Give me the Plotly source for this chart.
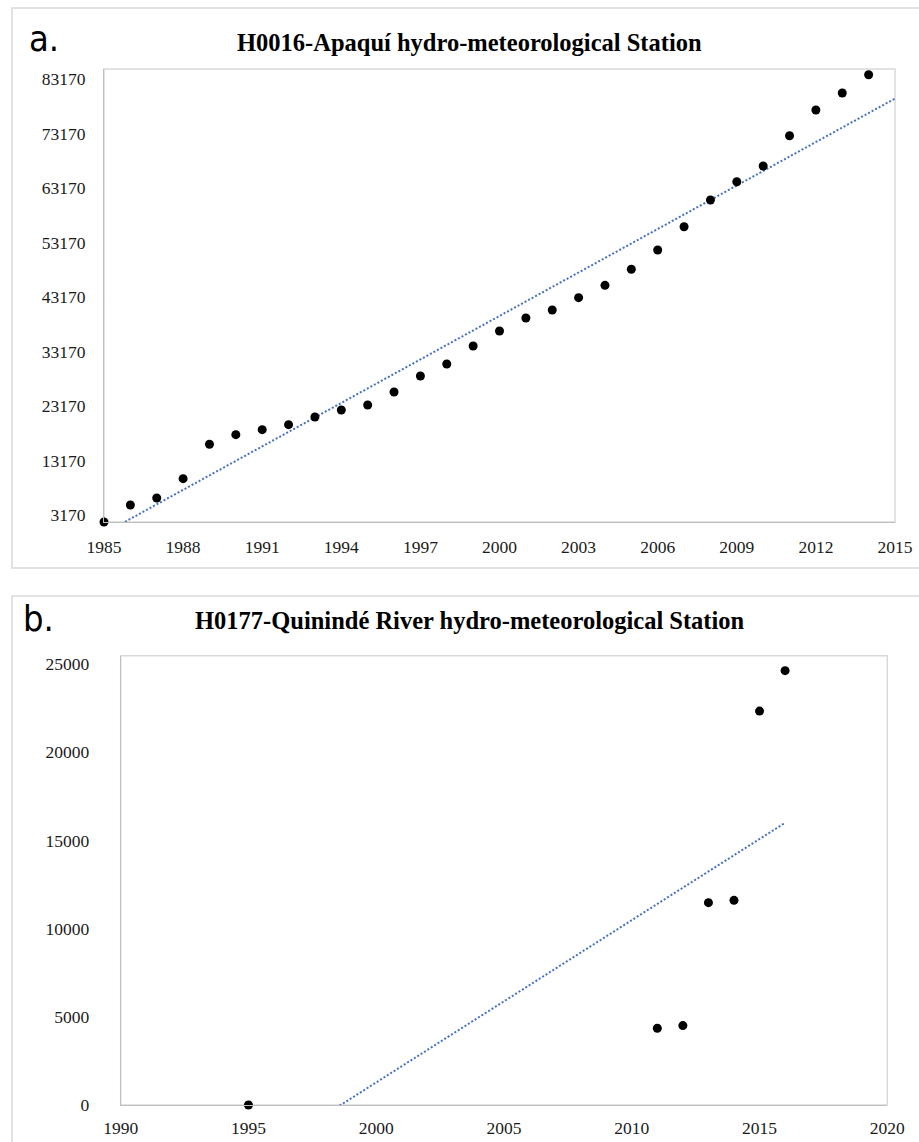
import numpy as np
import plotly.graph_objects as go

# Panel a: H0016-Apaquí cumulative series
years_a = list(range(1985, 2015))
values_a = [3170, 6290, 7574, 11120, 17427, 19194, 20113, 21030, 22436, 23720,
            24638, 27024, 29960, 32160, 35464, 38216, 40600, 42070, 44330, 46600,
            49540, 53080, 57353, 62253, 65610, 68491, 74050, 78766, 81886, 85243]
yticks_a = [3170, 13170, 23170, 33170, 43170, 53170, 63170, 73170, 83170]
xticks_a = [1985, 1988, 1991, 1994, 1997, 2000, 2003, 2006, 2009, 2012, 2015]

# Panel b: H0177-Quinindé River series
years_b = [1995, 2011, 2012, 2013, 2014, 2015, 2016]
values_b = [0, 4350, 4500, 11470, 11600, 22330, 24620]
yticks_b = [0, 5000, 10000, 15000, 20000, 25000]
xticks_b = [1990, 1995, 2000, 2005, 2010, 2015, 2020]

W, H = 919, 1142
SERIF = "Liberation Serif, Times New Roman, serif"
TREND = "#4472C4"


def px(x):
    return x / W


def py(y):
    return (H - y) / H


# linear trendlines (least squares)
ka, ba = np.polyfit(years_a, values_a, 1)
trend_xa = [1985, 2015]
trend_ya = [ka * x + ba for x in trend_xa]
kb, bb = np.polyfit(years_b, values_b, 1)
trend_xb = [min(years_b), max(years_b)]
trend_yb = [kb * x + bb for x in trend_xb]

fig = go.Figure()
fig.add_trace(go.Scatter(x=trend_xa, y=trend_ya, mode="lines",
                         line=dict(color=TREND, width=2, dash="2px,2px"),
                         xaxis="x", yaxis="y", hoverinfo="skip"))
fig.add_trace(go.Scatter(x=years_a, y=values_a, mode="markers",
                         marker=dict(color="black", size=9),
                         xaxis="x", yaxis="y", cliponaxis=False))
fig.add_trace(go.Scatter(x=trend_xb, y=trend_yb, mode="lines",
                         line=dict(color=TREND, width=2, dash="2px,2px"),
                         xaxis="x2", yaxis="y2", hoverinfo="skip"))
fig.add_trace(go.Scatter(x=years_b, y=values_b, mode="markers",
                         marker=dict(color="black", size=9),
                         xaxis="x2", yaxis="y2", cliponaxis=False))

tickfont = dict(family=SERIF, size=17.5, color="#1a1a1a")
axis_common = dict(showgrid=False, zeroline=False, ticks="", tickfont=tickfont,
                   showline=True, linecolor="#bfbfbf", linewidth=1,
                   automargin=False)

fig.update_layout(
    width=W, height=H,
    margin=dict(l=0, r=0, t=0, b=0, autoexpand=False),
    paper_bgcolor="white", plot_bgcolor="white",
    showlegend=False,
    xaxis=dict(domain=[px(104), px(895)], range=[1985, 2015],
               tickvals=xticks_a, ticktext=[str(v) for v in xticks_a],
               anchor="y", ticklabelstandoff=9, **axis_common),
    yaxis=dict(domain=[py(522), py(69)], range=[3170, 86290],
               tickvals=yticks_a, ticktext=[str(v) for v in yticks_a],
               anchor="x", ticklabelstandoff=14, ticklabelshift=-7, **axis_common),
    xaxis2=dict(domain=[px(120.7), px(887.3)], range=[1990, 2020],
                tickvals=xticks_b, ticktext=[str(v) for v in xticks_b],
                anchor="y2", ticklabelstandoff=7, **axis_common),
    yaxis2=dict(domain=[py(1105), py(655.7)], range=[0, 25470],
                tickvals=yticks_b, ticktext=[str(v) for v in yticks_b],
                anchor="x2", ticklabelstandoff=27, **axis_common),
)

# outer frames and light plot-area borders
fig.add_shape(type="rect", xref="paper", yref="paper",
              x0=px(12), x1=1.05, y0=py(568), y1=py(8),
              line=dict(color="#d9d9d9", width=1.5), layer="below")
fig.add_shape(type="rect", xref="paper", yref="paper",
              x0=px(12), x1=1.05, y0=-0.05, y1=py(596),
              line=dict(color="#d9d9d9", width=1.5), layer="below")
fig.add_shape(type="rect", xref="paper", yref="paper",
              x0=px(104), x1=px(895), y0=py(522), y1=py(69),
              line=dict(color="#d9d9d9", width=1.5), layer="below")
fig.add_shape(type="rect", xref="paper", yref="paper",
              x0=px(120.7), x1=px(887.3), y0=py(1105), y1=py(655.7),
              line=dict(color="#d9d9d9", width=1.5), layer="below")

title_font = dict(family=SERIF, size=24.5, color="black")
letter_font = dict(family="Liberation Sans Narrow, DejaVu Sans Condensed, Liberation Sans, sans-serif",
                   size=36, color="black")
fig.add_annotation(text="<b>H0016-Apaquí hydro-meteorological Station</b>",
                   xref="paper", yref="paper", x=px(470), y=py(42),
                   xanchor="center", yanchor="middle", showarrow=False, font=title_font)
fig.add_annotation(text="<b>H0177-Quinindé River hydro-meteorological Station</b>",
                   xref="paper", yref="paper", x=px(470), y=py(620),
                   xanchor="center", yanchor="middle", showarrow=False, font=title_font)
fig.add_annotation(text="a.", xref="paper", yref="paper", x=px(27), y=py(38),
                   xanchor="left", yanchor="middle", showarrow=False, font=letter_font)
fig.add_annotation(text="b.", xref="paper", yref="paper", x=px(21), y=py(619),
                   xanchor="left", yanchor="middle", showarrow=False, font=letter_font)

fig.write_html("out.html")
